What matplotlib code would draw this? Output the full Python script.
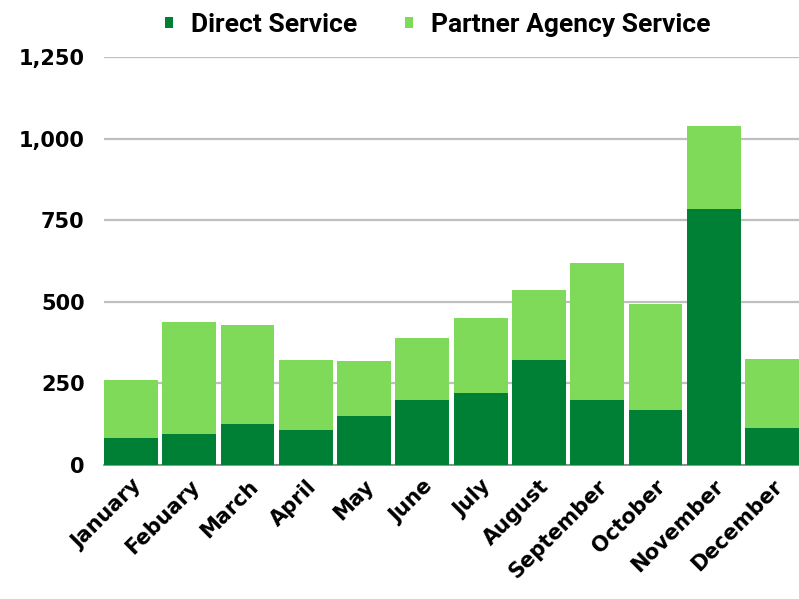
import matplotlib
matplotlib.use("Agg")
import matplotlib.pyplot as plt
import numpy as np

months = ["January", "Febuary", "March", "April", "May", "June", "July",
          "August", "September", "October", "November", "December"]
direct = [84, 95, 125, 107, 150, 199, 220, 321, 199, 168, 783, 113]
total = [260, 437, 430, 323, 318, 388, 449, 536, 618, 493, 1039, 326]
partner = [t - d for t, d in zip(total, direct)]

dark_green = "#008035"
light_green = "#80DA5A"

fig = plt.figure(figsize=(7.99, 5.99), dpi=100)
ax = fig.add_axes([104 / 799, 134 / 599, 695 / 799, 408 / 599])

x = np.arange(len(months))
w = 0.925
ax.bar(x, direct, width=w, color=dark_green, label="Direct Service", zorder=3)
ax.bar(x, partner, width=w, bottom=direct, color=light_green,
       label="Partner Agency Service", zorder=3)

ax.set_xlim(-w / 2, len(months) - 1 + w / 2)
ax.set_ylim(0, 1250)
ax.set_yticks([0, 250, 500, 750, 1000, 1250])
ax.set_yticklabels(["0", "250", "500", "750", "1,000", "1,250"])
ax.yaxis.grid(True, color="#BFBFBF", linewidth=1.6, zorder=0)
ax.set_axisbelow(True)

for s in ["top", "right", "left"]:
    ax.spines[s].set_visible(False)
ax.spines["bottom"].set_color("#808080")
ax.spines["bottom"].set_linewidth(1.2)
ax.tick_params(axis="both", length=0)
ax.tick_params(axis="y", pad=14)

tick_font = dict(family="DejaVu Sans", weight="bold", size=15)
for lab in ax.get_yticklabels():
    lab.set(**tick_font)
ax.set_xticks(x)
ax.set_xticklabels(months, rotation=45, ha="right", rotation_mode="anchor",
                   **tick_font)
ax.tick_params(axis="x", pad=8)

fig.legend(loc="upper center", bbox_to_anchor=(0.548, 1.018), ncol=2, frameon=False,
           handlelength=0.3, handleheight=0.3, handletextpad=0.7,
           columnspacing=1.8,
           prop=dict(family=["Roboto", "DejaVu Sans"], weight="bold", size=19))

fig.savefig("out.png", dpi=100)
